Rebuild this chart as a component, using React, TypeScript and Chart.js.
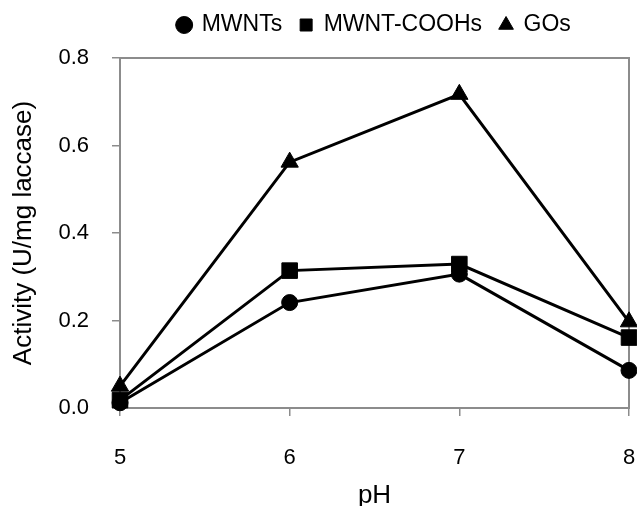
import React, { useEffect, useRef } from "react";
import { Chart, registerables } from "chart.js";

Chart.register(...registerables);

const phValues = [5, 6, 7, 8];
const mwnts = [0.012, 0.241, 0.306, 0.086];
const mwntCooh = [0.018, 0.314, 0.329, 0.161];
const gos = [0.05, 0.562, 0.717, 0.197];
const seriesNames = ["MWNTs", "MWNT-COOHs", "GOs"];
const yTicks = [0, 0.2, 0.4, 0.6, 0.8];

const FONT = "'Liberation Sans', Arial, Helvetica, sans-serif";
const AXIS = "#8c8c8c";

export default function App() {
  const ref = useRef<HTMLCanvasElement | null>(null);

  useEffect(() => {
    if (!ref.current) return;
    const PAD_TOP = -4.5;
    const legendGap = {
      id: "legendGap",
      afterInit(chart: any) {
        const lg = chart.legend;
        if (!lg) return;
        const orig = lg.fit.bind(lg);
        lg.fit = function () {
          orig();
          this.height = 58 - PAD_TOP;
        };
      },
    };
    const mk = (label: string, data: number[], style: string, r: number) => ({
      label,
      data: phValues.map((x, i) => ({ x, y: data[i] })),
      borderColor: "#000",
      backgroundColor: "#000",
      borderWidth: 3,
      pointStyle: style,
      pointRadius: r,
      pointHoverRadius: r,
      pointBackgroundColor: "#000",
      pointBorderColor: "#000",
      pointBorderWidth: 1,
      tension: 0,
      clip: false as any,
    });
    const chart = new Chart(ref.current, {
      type: "line",
      data: {
        datasets: [
          mk(seriesNames[0], mwnts, "circle", 8),
          mk(seriesNames[1], mwntCooh, "rect", 11),
          mk(seriesNames[2], gos, "triangle", 10),
        ],
      },
      options: {
        animation: false,
        responsive: false,
        layout: { autoPadding: false, padding: { top: PAD_TOP, left: 0, right: 8, bottom: 0 } },
        plugins: {
          legend: {
            display: true,
            position: "top",
            fullSize: false,
            labels: {
              usePointStyle: true,
              boxHeight: 12,
              boxWidth: 12,
              padding: 18,
              color: "#000",
              font: { family: FONT, size: 23 },
            },
          },
          tooltip: { enabled: false },
        },
        scales: {
          x: {
            type: "linear",
            position: "bottom",
            min: 5,
            max: 8,
            afterBuildTicks: (s: any) => {
              s.ticks = phValues.map((v) => ({ value: v }));
            },
            afterFit: (s: any) => {
              s.height = 98;
              s.paddingLeft = 0;
              s.paddingRight = 0;
            },
            grid: {
              display: true,
              drawOnChartArea: false,
              drawTicks: true,
              tickLength: 8,
              color: AXIS,
              lineWidth: 1.5,
            },
            border: { display: true, color: AXIS, width: 2 },
            ticks: {
              color: "#000",
              padding: 29,
              font: { family: FONT, size: 22 },
              maxRotation: 0,
            },
            title: {
              display: true,
              text: "pH",
              color: "#000",
              font: { family: FONT, size: 26 },
              padding: { top: 0, bottom: -5 },
            },
          },
          y: {
            type: "linear",
            position: "left",
            min: 0,
            max: 0.8,
            afterBuildTicks: (s: any) => {
              s.ticks = yTicks.map((v) => ({ value: v }));
            },
            afterFit: (s: any) => {
              s.width = 120;
            },
            grid: {
              display: true,
              drawOnChartArea: false,
              drawTicks: true,
              tickLength: 8,
              color: AXIS,
              lineWidth: 1.5,
            },
            border: { display: true, color: AXIS, width: 2 },
            ticks: {
              color: "#000",
              padding: 23,
              font: { family: FONT, size: 22 },
              callback: (v: any) => Number(v).toFixed(1),
            },
            title: {
              display: true,
              text: "Activity (U/mg laccase)",
              color: "#000",
              font: { family: FONT, size: 26 },
              padding: { top: 8.4, bottom: 0 },
            },
          },
          x2: {
            type: "linear",
            position: "top",
            min: 5,
            max: 8,
            afterFit: (s: any) => {
              s.height = 0;
              s.paddingLeft = 0;
              s.paddingRight = 0;
            },
            grid: { display: false, drawTicks: false },
            ticks: { display: false },
            border: { display: true, color: AXIS, width: 2 },
          },
          y2: {
            type: "linear",
            position: "right",
            min: 0,
            max: 0.8,
            afterFit: (s: any) => {
              s.width = 0;
            },
            grid: { display: false, drawTicks: false },
            ticks: { display: false },
            border: { display: true, color: AXIS, width: 2 },
          },
        },
      } as any,
      plugins: [legendGap],
    });
    return () => chart.destroy();
  }, []);

  return (
    <div style={{ position: "fixed", left: 0, top: 0, width: 637, height: 506, background: "#fff" }}>
      <canvas ref={ref} width={637} height={506} style={{ display: "block" }} />
    </div>
  );
}
